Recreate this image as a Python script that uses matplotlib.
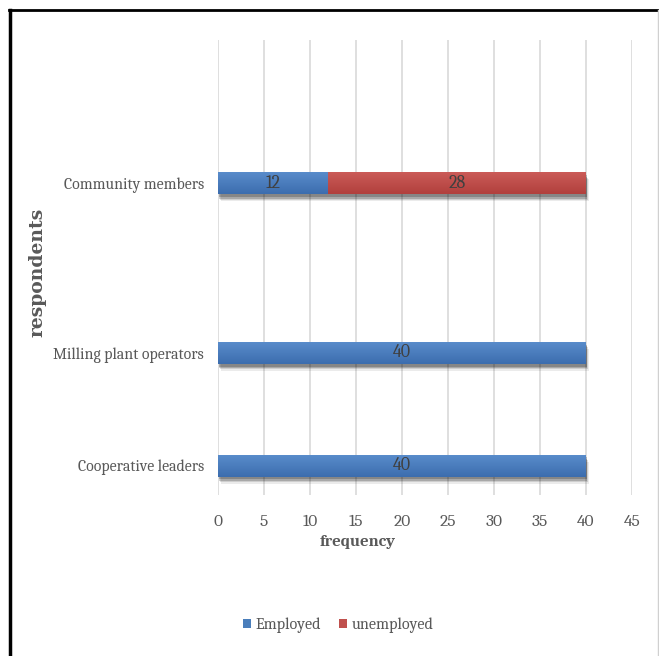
import matplotlib
matplotlib.use('Agg')
import numpy as np
import matplotlib.pyplot as plt
import matplotlib.patheffects as pe
from matplotlib.lines import Line2D
from matplotlib.patches import Patch
from matplotlib.colors import LinearSegmentedColormap

# respondents per group
groups = ['Cooperative leaders', 'Milling plant operators', 'Community members']
employed = [40, 40, 12]
unemployed = [0, 0, 28]
x_ticks = [0, 5, 10, 15, 20, 25, 30, 35, 40, 45]

ypos = [0, 1, 2.5]
bar_h = 0.195
blue = '#4A7EBB'
red = '#C0504D'
grey = '#595959'
label_font = 'Caladea'

fig = plt.figure(figsize=(6.59, 6.56), dpi=100)
ax = fig.add_axes([0.3308, 0.2454, 0.6282, 0.6936])

# soft drop shadow built from a few offset copies
shadow = [pe.SimplePatchShadow(offset=(2, -5), shadow_rgbFace='#000000', alpha=0.08),
          pe.SimplePatchShadow(offset=(1.5, -4), shadow_rgbFace='#000000', alpha=0.12),
          pe.SimplePatchShadow(offset=(1, -3), shadow_rgbFace='#000000', alpha=0.18),
          pe.SimplePatchShadow(offset=(0.5, -2), shadow_rgbFace='#000000', alpha=0.2),
          pe.Normal()]

b1 = ax.barh(ypos, employed, height=bar_h, color=blue, zorder=3)
b2 = ax.barh(ypos, unemployed, left=employed, height=bar_h, color=red, zorder=3)

shades = {blue: ('#3C6DAE', '#5A8DCC'), red: ('#B1403D', '#CC5C59')}
grad = np.linspace(0, 1, 64).reshape(-1, 1)
for bars, col in [(b1, blue), (b2, red)]:
    cmap = LinearSegmentedColormap.from_list('g', shades[col])
    for b in bars:
        if b.get_width() == 0:
            continue
        b.set_path_effects(shadow)
        x0, y0 = b.get_x(), b.get_y()
        im = ax.imshow(grad, cmap=cmap, aspect='auto', origin='lower', zorder=3.1,
                       extent=(x0, x0 + b.get_width(), y0, y0 + b.get_height()))
        im.set_clip_path(b)

for y, e, u in zip(ypos, employed, unemployed):
    if e:
        ax.text(e / 2, y, str(e), ha='center', va='center', fontsize=13,
                family=label_font, color='#404040', zorder=4)
    if u:
        ax.text(e + u / 2, y, str(u), ha='center', va='center', fontsize=13,
                family=label_font, color='#404040', zorder=4)

ax.set_xlim(0, 45)
ax.set_ylim(-0.26, 3.77)
ax.set_xticks(x_ticks)
ax.set_xticklabels([str(t) for t in x_ticks], family=label_font, fontsize=12.5, color=grey)
ax.set_yticks(ypos)
ax.set_yticklabels(groups, family=label_font, fontsize=11.3, color=grey)
ax.tick_params(axis='both', length=0)
ax.tick_params(axis='x', pad=14)
ax.tick_params(axis='y', pad=10)
ax.grid(axis='x', color='#D9D9D9', linewidth=1.2, zorder=0)
for s in ax.spines.values():
    s.set_visible(False)

fig.text(0.5432, 0.174, 'frequency', ha='center', va='center', family=label_font,
         fontweight='bold', fontsize=12, color=grey)
fig.text(0.057, 0.585, 'respondents', ha='center', va='center', rotation=90,
         family='DejaVu Serif', fontweight='bold', fontsize=13.5, color=grey)

handles = [Patch(facecolor=blue), Patch(facecolor=red)]
fig.legend(handles=handles, labels=['Employed', 'unemployed'], loc='center',
           bbox_to_anchor=(0.513, 0.047), ncol=2, frameon=False,
           prop={'family': label_font, 'size': 11.5}, labelcolor=grey,
           handlelength=0.5, handleheight=0.5, handletextpad=0.3, columnspacing=1.1)

# page frame
fig.add_artist(Line2D([0.0152, 0.0152], [0.0, 0.984], transform=fig.transFigure, color='black', linewidth=2.5))
fig.add_artist(Line2D([0.0137, 1.0], [0.984, 0.984], transform=fig.transFigure, color='black', linewidth=2.0))
fig.add_artist(Line2D([0.9985, 0.9985], [0.0, 0.984], transform=fig.transFigure, color='#D0D0D0', linewidth=1.0))

fig.savefig('out.png', dpi=100)
